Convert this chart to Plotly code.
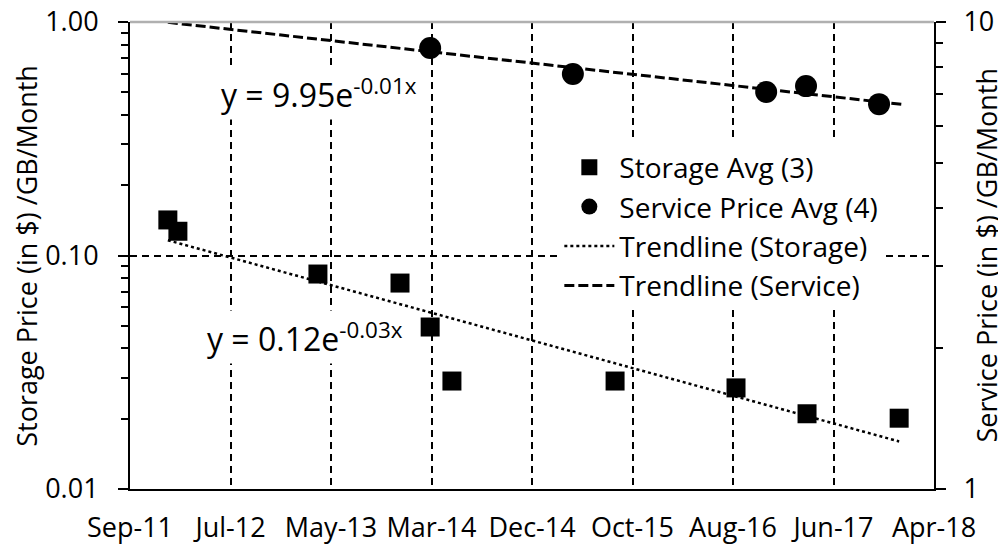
import numpy as np
import pandas as pd
import plotly.graph_objects as go

# ---- data ----
storage_dates = ["2012-01-06", "2012-02-05", "2013-03-29", "2013-11-29", "2014-02-27",
                 "2014-05-03", "2015-09-02", "2016-08-28", "2017-03-28", "2017-12-28"]
storage_avg = [0.142, 0.127, 0.0833, 0.0762, 0.0494, 0.0290, 0.0290, 0.0271, 0.0210, 0.0201]

service_dates = ["2014-02-27", "2015-04-29", "2016-11-26", "2017-03-25", "2017-10-29"]
service_avg = [8.80, 7.74, 7.08, 7.29, 6.67]

x_tick_labels = ["Sep-11", "Jul-12", "May-13", "Mar-14", "Dec-14", "Oct-15", "Aug-16", "Jun-17", "Apr-18"]
x_axis_start = "2011-09-15"
x_tick_step_days = 300

left_tick_vals = [0.01, 0.1, 1.0]
left_tick_text = ["0.01", "0.10", "1.00"]
right_tick_vals = [1, 10]
right_tick_text = ["1", "10"]

left_title = "Storage Price (in $) /GB/Month"
right_title = "Service Price (in $) /GB/Month"
eq_storage = "y = 0.12e<sup>-0.03x</sup>"
eq_service = "y = 9.95e<sup>-0.01x</sup>"

# ---- derived ----
s_dt = pd.to_datetime(storage_dates)
v_dt = pd.to_datetime(service_dates)
start = pd.Timestamp(x_axis_start)
tick_dates = [start + pd.Timedelta(days=x_tick_step_days * i) for i in range(len(x_tick_labels))]


def exp_fit(dates, vals, lo, hi):
    d = np.array([(t - start).days for t in dates], dtype=float)
    b, a = np.polyfit(d, np.log(vals), 1)
    dd = np.linspace((lo - start).days, (hi - start).days, 60)
    xs = [start + pd.Timedelta(days=float(k)) for k in dd]
    return xs, np.exp(a + b * dd)


lo, hi = s_dt.min(), s_dt.max()
ts_x, ts_y = exp_fit(s_dt, storage_avg, lo, hi)
tv_x, tv_y = exp_fit(v_dt, service_avg, lo, hi + pd.Timedelta(days=15))

FONT = "Open Sans"
FS = 27
fig = go.Figure()
fig.add_trace(go.Scatter(x=s_dt, y=storage_avg, mode="markers", name="Storage Avg (3)",
                         marker=dict(symbol="square", size=19, color="black"), yaxis="y"))
fig.add_trace(go.Scatter(x=v_dt, y=service_avg, mode="markers", name="Service Price Avg (4)",
                         marker=dict(symbol="circle", size=22, color="black"), yaxis="y2"))
fig.add_trace(go.Scatter(x=ts_x, y=ts_y, mode="lines", name="Trendline (Storage)",
                         line=dict(color="black", width=2.5, dash="dot"), yaxis="y"))
fig.add_trace(go.Scatter(x=tv_x, y=tv_y, mode="lines", name="Trendline (Service)",
                         line=dict(color="black", width=3, dash="10px,4px"), yaxis="y2"))

grid = dict(showgrid=True, gridcolor="black", gridwidth=1.5, griddash="7px,5px")

fig.update_layout(
    width=998, height=540,
    margin=dict(l=122, r=72, t=14, b=59),
    paper_bgcolor="white", plot_bgcolor="white",
    font=dict(family=FONT, size=FS, color="black"),
    showlegend=True,
    legend=dict(x=0.534, y=0.742, xanchor="left", yanchor="top", bgcolor="white",
                font=dict(size=28), itemwidth=50, tracegroupgap=0),
    xaxis=dict(
        type="date", automargin=False, ticklabeloverflow="allow",
        range=[start, tick_dates[-1]],
        tickmode="array", tickvals=tick_dates, ticktext=x_tick_labels,
        showline=True, linecolor="black", linewidth=2,
        ticks="", ticklabelstandoff=14,
        zeroline=False, **grid,
    ),
    yaxis=dict(
        type="log", range=[-2, 0], automargin=False, ticklabeloverflow="allow",
        tickmode="array", tickvals=left_tick_vals, ticktext=left_tick_text,
        ticks="outside", ticklen=10, tickwidth=2, tickcolor="black",
        minor=dict(tickvals=[k * 10.0 ** e for e in (-2, -1) for k in range(2, 10)],
                   ticks="outside", ticklen=7, tickwidth=2, tickcolor="black", showgrid=False),
        showline=True, linecolor="black", linewidth=2,
        ticklabelstandoff=14,
        zeroline=False, **grid,
    ),
    yaxis2=dict(
        type="log", range=[0, 1], overlaying="y", side="right", automargin=False,
        ticklabeloverflow="allow",
        tickmode="array", tickvals=right_tick_vals, ticktext=right_tick_text,
        ticks="outside", ticklen=10, tickwidth=2, tickcolor="black",
        minor=dict(tickvals=list(range(2, 10)), ticks="outside", ticklen=7, tickwidth=2,
                   tickcolor="black", showgrid=False),
        showgrid=False, showline=True, linecolor="black", linewidth=2,
        ticklabelstandoff=12,
        zeroline=False,
    ),
    shapes=[dict(type="line", xref="paper", yref="paper", x0=0, x1=1, y0=1, y1=1,
                 line=dict(color="#b0b0b0", width=2.5), layer="above")],
    annotations=[
        dict(text=left_title, xref="paper", yref="paper", x=-0.129, y=0.5, textangle=-90,
             xanchor="center", yanchor="middle", showarrow=False, font=dict(size=27)),
        dict(text=right_title, xref="paper", yref="paper", x=1.0647, y=0.5, textangle=-90,
             xanchor="center", yanchor="middle", showarrow=False, font=dict(size=27)),
        dict(text=eq_service, xref="paper", yref="paper", x=0.235, y=0.848, showarrow=False,
             xanchor="center", yanchor="middle", font=dict(size=32), bgcolor="white", borderpad=3),
        dict(text=eq_storage, xref="paper", yref="paper", x=0.218, y=0.325, showarrow=False,
             xanchor="center", yanchor="middle", font=dict(size=32), bgcolor="white", borderpad=3),
    ],
)

fig.write_html("out.html")
